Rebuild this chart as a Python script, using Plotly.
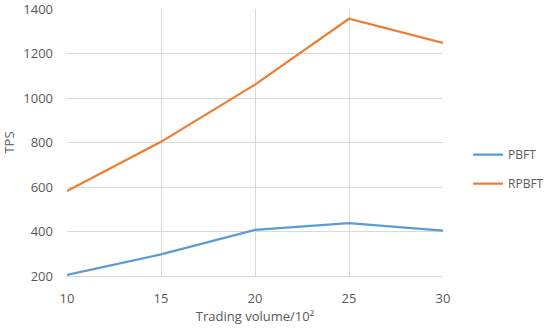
import plotly.graph_objects as go

x_vals = [10, 15, 20, 25, 30]
pbft = [205, 297, 407, 438, 404]
rpbft = [582, 803, 1060, 1356, 1248]
y_ticks = [200, 400, 600, 800, 1000, 1200, 1400]

fig = go.Figure()
fig.add_trace(go.Scatter(x=x_vals, y=pbft, name="PBFT", mode="lines", legendgroup="a",
                         line=dict(color="#5B9BD5", width=2.2)))
fig.add_trace(go.Scatter(x=x_vals, y=rpbft, name="RPBFT", mode="lines", legendgroup="b",
                         line=dict(color="#ED7D31", width=2.2)))

font_color = "#595959"
fig.update_layout(
    width=550, height=330,
    margin=dict(l=67, r=107, t=9, b=54),
    paper_bgcolor="white", plot_bgcolor="white",
    font=dict(family="Open Sans, Liberation Sans, sans-serif", size=12, color=font_color),
    xaxis=dict(range=[10, 30], tickvals=x_vals, showgrid=True, gridcolor="#d9d9d9", gridwidth=1,
               showline=True, linecolor="#d9d9d9", zeroline=False, ticks="", automargin=False,
               ticklabelstandoff=10, ticklabeloverflow="allow",
               title=dict(text="Trading volume/10²", font=dict(size=13, color=font_color), standoff=6),
               tickfont=dict(size=13, color=font_color)),
    yaxis=dict(range=[200, 1400], tickvals=y_ticks, showgrid=True, gridcolor="#d9d9d9", gridwidth=1,
               showline=False, zeroline=False, ticks="", automargin=False,
               ticklabelstandoff=13, ticklabeloverflow="allow",
               title=dict(text="TPS", font=dict(size=13, color=font_color), standoff=8),
               tickfont=dict(size=13, color=font_color)),
    legend=dict(xref="container", x=0.851, y=0.40, xanchor="left", yanchor="middle",
                font=dict(size=12, color=font_color),
                bgcolor="rgba(0,0,0,0)", tracegroupgap=10),
    showlegend=True,
)

fig.write_html("out.html", config={"displayModeBar": False},
               post_script="document.body.style.margin='0';")
